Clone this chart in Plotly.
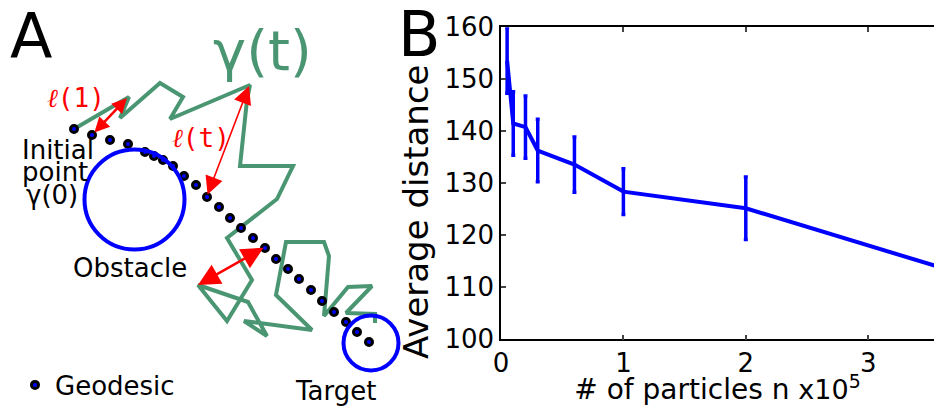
import plotly.graph_objects as go

W, H = 934, 406
FONT = "DejaVu Sans"

# ---- Panel B: average distance vs number of particles (x 1e5) ----
n_particles = [0.05, 0.1, 0.2, 0.3, 0.6, 1.0, 2.0, 4.0]
avg_distance = [153.6, 141.5, 140.8, 136.3, 133.6, 128.4, 125.2, 110.9]
distance_err = [6.3, 6.1, 6.0, 6.0, 5.3, 4.4, 6.0, 5.0]
x_ticks = [0, 1, 2, 3]
y_ticks = [100, 110, 120, 130, 140, 150, 160]

# ---- Panel A: schematic, in canvas pixel units (y grows downward) ----
walk_x = [74, 129, 120, 160, 183, 170, 250, 247, 240, 293, 277, 227, 252, 227, 198,
          248, 267, 244, 312, 276, 286, 324, 329, 324, 348, 372, 346, 375, 375]
walk_y = [129, 97, 118, 83, 97, 119, 85, 100, 166, 166, 199, 238, 280, 321, 285,
          302, 336, 321, 330, 295, 242, 242, 256, 316, 287, 286, 313, 314, 323]
geo_x = [74, 92, 110, 128, 145, 154, 163, 173, 184, 196, 207, 219, 230, 241, 253,
         265, 276, 288, 299, 311, 322, 334, 346, 357, 369]
geo_y = [129, 135, 140, 144, 152, 156, 160, 166, 176, 185, 197, 207, 218, 228, 238,
         248, 259, 269, 279, 290, 301, 312, 322, 332, 342]
# circles: (centre x, centre y, radius)
obstacle = (134.5, 199.5, 50)
target = (371, 343, 27.5)
# double-headed distance arrows: (x0, y0, x1, y1, line width, head scale)
dist_arrows = [
    (93, 134, 127, 98, 2.5, 1.2),
    (207, 196, 249, 86, 1.5, 2.4),
    (265, 247, 198, 285, 2.5, 1.75),
]

BLUE = "#0000ff"
GREEN = "#4a9673"
RED = "#ff0000"

fig = go.Figure()

fig.add_trace(go.Scatter(
    x=n_particles, y=avg_distance, mode="lines",
    line=dict(color=BLUE, width=4),
    error_y=dict(type="data", array=distance_err, color=BLUE, thickness=3.5, width=2),
    xaxis="x", yaxis="y", showlegend=False, cliponaxis=True,
))

fig.add_trace(go.Scatter(
    x=walk_x, y=walk_y, mode="lines",
    line=dict(color=GREEN, width=4),
    xaxis="x2", yaxis="y2", showlegend=False,
))
fig.add_trace(go.Scatter(
    x=geo_x, y=geo_y, mode="markers", name="Geodesic",
    marker=dict(color=BLUE, size=7, line=dict(color="black", width=3)),
    xaxis="x2", yaxis="y2", showlegend=True,
))

shapes = []
for (cx, cy, r) in (obstacle, target):
    shapes.append(dict(type="circle", xref="x2", yref="y2",
                       x0=cx - r, x1=cx + r, y0=cy - r, y1=cy + r,
                       line=dict(color=BLUE, width=4)))

annotations = []
for (x0, y0, x1, y1, lw, hs) in dist_arrows:
    annotations.append(dict(
        x=x1, y=y1, ax=x0, ay=y0, xref="x2", yref="y2", axref="x2", ayref="y2",
        text="", showarrow=True, arrowside="end+start",
        arrowhead=2, startarrowhead=2, arrowsize=hs, startarrowsize=hs,
        arrowwidth=lw, arrowcolor=RED, standoff=0, startstandoff=0,
    ))


def label(x, y, text, size, color="black", family=FONT, xanchor="center", **kw):
    annotations.append(dict(
        x=x, y=y, xref="x2", yref="y2", text=text, showarrow=False,
        xanchor=xanchor, yanchor="middle",
        font=dict(family=family, size=size, color=color), **kw))


label(8, 36, "A", 62, xanchor="left")
label(396, 34, "B", 62, xanchor="left")
label(262, 50, "γ(t)", 56, color=GREEN)
label(76, 98, "<i>ℓ</i>(1)", 26, color=RED, family="DejaVu Sans Mono")
label(201, 138, "<i>ℓ</i>(t)", 26, color=RED, family="DejaVu Sans Mono")
label(58, 150, "Initial", 26)
label(55, 172, "point", 26)
label(52, 195, "γ(0)", 26)
label(130, 268, "Obstacle", 26)
label(335, 391, "Target", 26)
label(416, 212, "Average distance", 34, textangle=-90)

fig.update_layout(
    width=W, height=H,
    margin=dict(l=0, r=0, t=0, b=0, autoexpand=False),
    paper_bgcolor="white", plot_bgcolor="rgba(0,0,0,0)",
    font=dict(family=FONT, color="black"),
    shapes=shapes, annotations=annotations,
    legend=dict(x=15 / W, y=1 - 385 / H, xanchor="left", yanchor="middle",
                bgcolor="rgba(0,0,0,0)", font=dict(size=26, family=FONT)),
    xaxis=dict(
        domain=[501 / W, 1], range=[0, (W - 501) / 122.4], anchor="y",
        tickvals=x_ticks, ticks="inside", ticklen=5, tickwidth=1.5,
        showline=True, linecolor="black", linewidth=1.5, mirror="ticks",
        showgrid=False, zeroline=False, tickfont=dict(size=26), automargin=False,
        title=dict(text="# of particles n <span style='font-size:27px'>x10<sup>5</sup></span>",
                   font=dict(size=28), standoff=8),
    ),
    yaxis=dict(
        domain=[(H - 339.3) / H, (H - 27.3) / H], range=[100, 160], anchor="x",
        tickvals=y_ticks, ticks="inside", ticklen=5, tickwidth=1.5,
        showline=True, linecolor="black", linewidth=1.5, automargin=False,
        showgrid=False, zeroline=False, tickfont=dict(size=26),
    ),
    xaxis2=dict(domain=[0, 1], range=[0, W], visible=False, anchor="y2",
                fixedrange=True, automargin=False),
    yaxis2=dict(domain=[0, 1], range=[H, 0], visible=False, anchor="x2",
                fixedrange=True, automargin=False),
)

fig.write_html("out.html")
